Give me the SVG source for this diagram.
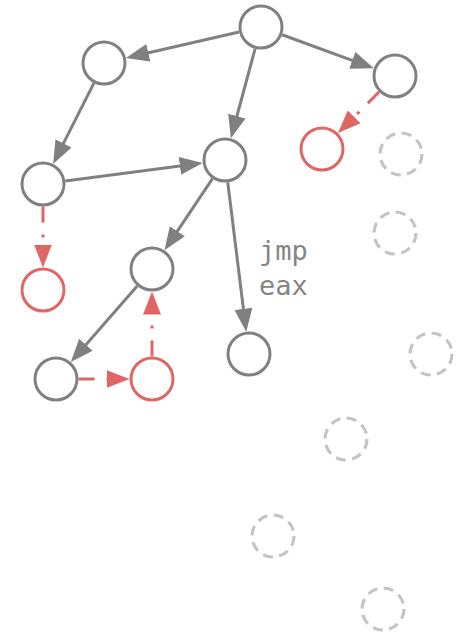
<svg xmlns="http://www.w3.org/2000/svg" width="459" height="636" viewBox="0 0 459 636">
  <style>
    .node circle { fill: #ffffff; stroke-width: 3; }
    .plain circle { stroke: #808080; }
    .hit circle { stroke: #e06666; }
    .ghost circle { stroke: #c4c4c4; stroke-width: 3.2; stroke-dasharray: 10 6.5; }
    .edge { fill: none; stroke-width: 3; }
    .solid { stroke: #808080; }
    .dashed { stroke: #e06666; stroke-dasharray: 16 12 3 12; }
    .label { font-family: "DejaVu Sans Mono", "Liberation Mono", monospace; font-size: 27px; fill: #858585; }
  </style>
  <defs>
    <marker id="arrow-gray" markerUnits="userSpaceOnUse" markerWidth="23" markerHeight="18" refX="2" refY="9" orient="auto">
      <path d="M0,0 L23,9 L0,18 z" fill="#808080"/>
    </marker>
    <marker id="arrow-red" markerUnits="userSpaceOnUse" markerWidth="23" markerHeight="18" refX="2" refY="9" orient="auto">
      <path d="M0,0 L23,9 L0,18 z" fill="#e06666"/>
    </marker>
  </defs>

  <g id="edges">
    <line class="edge solid" x1="239.07" y1="32.03" x2="146.40" y2="53.28" marker-end="url(#arrow-gray)"/>
    <line class="edge solid" x1="282.13" y1="34.73" x2="354.15" y2="61.06" marker-end="url(#arrow-gray)"/>
    <line class="edge solid" x1="255.12" y1="48.72" x2="236.37" y2="118.00" marker-end="url(#arrow-gray)"/>
    <line class="edge solid" x1="93.87" y1="83.09" x2="62.58" y2="145.16" marker-end="url(#arrow-gray)"/>
    <line class="edge solid" x1="65.31" y1="181.06" x2="181.87" y2="165.68" marker-end="url(#arrow-gray)"/>
    <line class="edge solid" x1="212.48" y1="178.69" x2="176.20" y2="232.86" marker-end="url(#arrow-gray)"/>
    <line class="edge solid" x1="227.76" y1="182.33" x2="243.66" y2="310.83" marker-end="url(#arrow-gray)"/>
    <line class="edge solid" x1="137.21" y1="285.95" x2="84.60" y2="346.22" marker-end="url(#arrow-gray)"/>
    <line class="edge dashed" x1="379.09" y1="91.91" x2="352.76" y2="118.24" marker-end="url(#arrow-red)"/>
    <line class="edge dashed" x1="43" y1="206.5" x2="43" y2="246.5" marker-end="url(#arrow-red)"/>
    <line class="edge dashed" x1="78.5" y1="379" x2="108.5" y2="379" marker-end="url(#arrow-red)"/>
    <line class="edge dashed" x1="152" y1="356.5" x2="152" y2="312.5" marker-end="url(#arrow-red)"/>
    <text class="label" x="259" y="260">jmp</text>
    <text class="label" x="259" y="295">eax</text>
  </g>

  <g id="n-root" class="node plain"><circle cx="261" cy="27" r="21"/></g>
  <g id="n-a" class="node plain"><circle cx="104" cy="63" r="21"/></g>
  <g id="n-b" class="node plain"><circle cx="395" cy="76" r="21"/></g>
  <g id="n-c" class="node plain"><circle cx="225" cy="160" r="21"/></g>
  <g id="n-d" class="node hit"><circle cx="322" cy="149" r="21"/></g>
  <g id="n-e" class="node plain"><circle cx="43" cy="184" r="21"/></g>
  <g id="n-f" class="node hit"><circle cx="43" cy="290" r="21"/></g>
  <g id="n-g" class="node plain"><circle cx="152" cy="269" r="21"/></g>
  <g id="n-h" class="node plain"><circle cx="56" cy="379" r="21"/></g>
  <g id="n-i" class="node hit"><circle cx="152" cy="379" r="21"/></g>
  <g id="n-j" class="node plain"><circle cx="249" cy="354" r="21"/></g>

  <g id="g-1" class="node ghost"><circle cx="401" cy="154" r="21"/></g>
  <g id="g-2" class="node ghost"><circle cx="395" cy="233" r="21"/></g>
  <g id="g-3" class="node ghost"><circle cx="431" cy="354" r="21"/></g>
  <g id="g-4" class="node ghost"><circle cx="346" cy="439" r="21"/></g>
  <g id="g-5" class="node ghost"><circle cx="273" cy="536" r="21"/></g>
  <g id="g-6" class="node ghost"><circle cx="383" cy="609" r="21"/></g>
</svg>
